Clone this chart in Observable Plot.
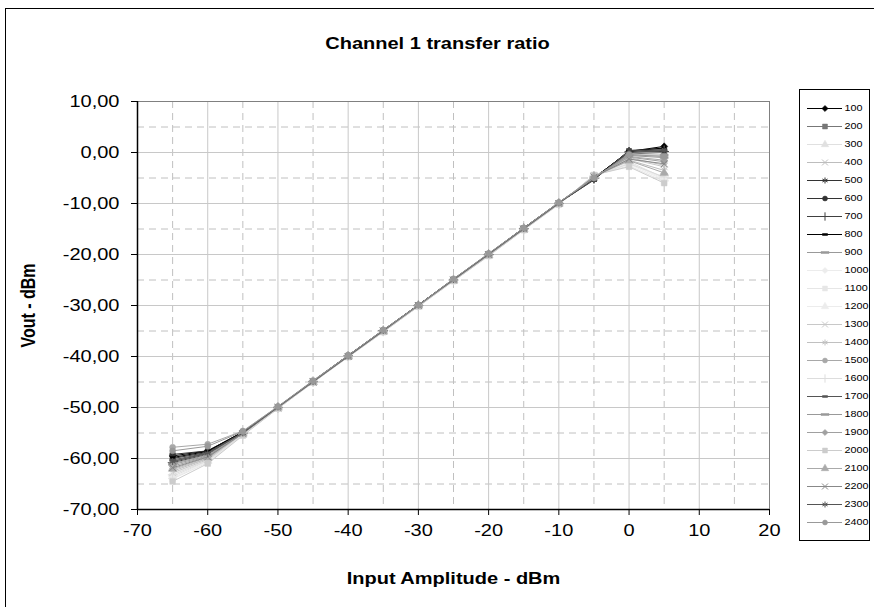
<!DOCTYPE html>
<html>
<head>
<meta charset="utf-8">
<script src="https://cdn.jsdelivr.net/npm/d3@7"></script>
<script src="https://cdn.jsdelivr.net/npm/@observablehq/plot@0.6"></script>
<style>
  html, body { margin: 0; padding: 0; background: #fff; overflow: hidden; width: 874px; height: 607px; }
  #wrap { position: relative; width: 874px; height: 607px; }
  #frame { position: absolute; left: 5px; top: 8px; width: 900px; height: 700px; border: 1.5px solid #000; box-sizing: border-box; }
  #main { position: absolute; left: 0; top: 0; }
  #legend { position: absolute; left: 799px; top: 89px; }
</style>
</head>
<body>
<div id="wrap">
  <div id="frame"></div>
  <div id="main"></div>
  <div id="legend"></div>
</div>
<script>
// Input amplitude (dBm)
const inputDbm = [-65, -60, -55, -50, -45, -40, -35, -30, -25, -20, -15, -10, -5, 0, 5];

// Series names (frequencies)
const seriesNames = ["100","200","300","400","500","600","700","800","900","1000","1100","1200",
  "1300","1400","1500","1600","1700","1800","1900","2000","2100","2200","2300","2400"];

// Vout (dBm) per series
const v100  = [-59.5, -58.5, -54.8, -49.9, -44.8, -39.8, -34.9, -29.9, -24.9, -19.9, -14.8, -9.9, -5.0, 0.2, 1.2];
const v200  = [-60.5, -59.0, -55.0, -50.0, -44.9, -39.9, -35.0, -30.0, -25.0, -20.1, -15.0, -10.0, -4.8, -0.3, 0.0];
const v300  = [-63.5, -60.5, -55.3, -50.1, -45.0, -40.0, -35.1, -30.1, -25.1, -20.2, -15.1, -10.1, -4.6, -1.8, -5.0];
const v400  = [-62.5, -60.0, -55.2, -50.0, -45.0, -40.0, -35.0, -30.0, -25.1, -20.1, -15.0, -10.0, -4.7, -1.5, -3.5];
const v500  = [-60.0, -58.8, -54.9, -49.9, -44.9, -39.9, -34.9, -29.9, -24.9, -19.9, -14.9, -9.9, -5.4, 0.4, 0.8];
const v600  = [-59.2, -58.5, -54.8, -49.9, -44.8, -39.8, -34.9, -29.9, -24.9, -19.9, -14.8, -9.9, -5.2, 0.3, 0.5];
const v700  = [-60.8, -59.2, -55.0, -50.0, -44.9, -39.9, -34.9, -30.0, -25.0, -20.0, -14.9, -10.0, -5.1, 0.1, 0.2];
const v800  = [-59.8, -58.6, -54.8, -49.9, -44.8, -39.8, -34.8, -29.9, -24.8, -19.9, -14.8, -9.8, -5.0, 0.2, 0.9];
const v900  = [-61.0, -59.3, -55.0, -50.0, -44.9, -39.9, -35.0, -30.0, -25.0, -20.0, -15.0, -10.0, -4.9, -0.5, -0.5];
const v1000 = [-63.8, -60.6, -55.4, -50.2, -45.1, -40.1, -35.1, -30.1, -25.1, -20.2, -15.1, -10.1, -4.5, -2.3, -5.4];
const v1100 = [-64.0, -60.8, -55.4, -50.2, -45.1, -40.1, -35.2, -30.2, -25.2, -20.2, -15.2, -10.1, -4.5, -2.6, -5.7];
const v1200 = [-63.0, -60.3, -55.3, -50.1, -45.0, -40.0, -35.1, -30.1, -25.1, -20.1, -15.1, -10.1, -4.6, -2.0, -5.2];
const v1300 = [-62.8, -60.2, -55.2, -50.1, -45.0, -40.0, -35.0, -30.1, -25.0, -20.1, -15.0, -10.0, -4.7, -1.2, -2.8];
const v1400 = [-62.2, -60.0, -55.2, -50.0, -45.0, -40.0, -35.0, -30.0, -25.0, -20.0, -15.0, -10.0, -4.8, -1.0, -2.5];
const v1500 = [-57.8, -57.2, -54.6, -49.8, -44.7, -39.8, -34.8, -29.9, -24.8, -19.8, -14.8, -9.8, -4.9, -0.8, -1.5];
const v1600 = [-63.2, -60.4, -55.3, -50.1, -45.0, -40.0, -35.1, -30.1, -25.1, -20.2, -15.1, -10.1, -4.6, -2.2, -4.8];
const v1700 = [-60.3, -58.9, -54.9, -49.9, -44.9, -39.9, -34.9, -29.9, -24.9, -19.9, -14.9, -9.9, -5.1, 0.0, 0.4];
const v1800 = [-61.2, -59.5, -55.0, -50.0, -45.0, -40.0, -35.0, -30.0, -25.0, -20.0, -15.0, -10.0, -4.9, -0.6, -1.0];
const v1900 = [-61.5, -59.6, -55.1, -50.0, -45.0, -40.0, -35.0, -30.0, -25.0, -20.0, -15.0, -10.0, -4.8, -0.9, -1.8];
const v2000 = [-64.5, -61.0, -55.5, -50.2, -45.1, -40.1, -35.2, -30.2, -25.2, -20.3, -15.2, -10.2, -4.4, -2.8, -6.0];
const v2100 = [-62.0, -59.8, -55.1, -50.0, -45.0, -40.0, -35.0, -30.0, -25.0, -20.1, -15.0, -10.0, -4.7, -1.6, -4.0];
const v2200 = [-61.8, -59.7, -55.1, -50.0, -45.0, -40.0, -35.0, -30.0, -25.0, -20.0, -15.0, -10.0, -4.8, -1.3, -2.2];
const v2300 = [-60.6, -59.0, -55.0, -49.9, -44.9, -39.9, -34.9, -29.9, -24.9, -19.9, -14.9, -9.9, -5.3, 0.3, 0.6];
const v2400 = [-58.5, -57.6, -54.7, -49.8, -44.8, -39.8, -34.8, -29.9, -24.8, -19.8, -14.8, -9.8, -5.0, -0.4, -0.8];

const seriesValues = [v100, v200, v300, v400, v500, v600, v700, v800, v900, v1000, v1100, v1200,
  v1300, v1400, v1500, v1600, v1700, v1800, v1900, v2000, v2100, v2200, v2300, v2400];

// Axis ticks
const xMajorTicks = [-70, -60, -50, -40, -30, -20, -10, 0, 10, 20];
const xMinorTicks = [-65, -55, -45, -35, -25, -15, -5, 5, 15];
const yMajorTicks = [10, 0, -10, -20, -30, -40, -50, -60, -70];
const yMinorTicks = [5, -5, -15, -25, -35, -45, -55, -65];

// Styles
const seriesColors = ["#000000","#777777","#e0e0e0","#bdbdbd","#333333","#333333","#404040","#000000",
  "#999999","#ececec","#e6e6e6","#ececec","#c8c8c8","#c0c0c0","#a8a8a8","#dddddd","#555555","#999999",
  "#a0a0a0","#cccccc","#aaaaaa","#888888","#555555","#999999"];
const seriesMarkers = ["diamond","square","triangle","times","asterisk","circle","plus","dashS",
  "dashL","diamond","square","triangle","times","asterisk","circle","plus","dashS","dashL",
  "diamond","square","triangle","times","asterisk","circle"];

const dashS = { draw(ctx) { ctx.moveTo(-2.5, -1); ctx.lineTo(2.5, -1); ctx.lineTo(2.5, 1); ctx.lineTo(-2.5, 1); ctx.closePath(); } };
const dashL = { draw(ctx) { ctx.moveTo(-4, -1); ctx.lineTo(4, -1); ctx.lineTo(4, 1); ctx.lineTo(-4, 1); ctx.closePath(); } };
const strokeOnly = new Set(["times", "plus", "asterisk"]);
function symbolOf(m) { return m === "dashS" ? dashS : m === "dashL" ? dashL : m === "diamond" ? "diamond2" : m; }

const fmtY = d => d.toFixed(2).replace(".", ",");
const fmtX = d => String(d);
const font = "'Liberation Sans', Arial, sans-serif";
const STRETCH = 1.25;

function stretchTexts(svg, s) {
  svg.querySelectorAll("text").forEach(t => {
    const tr = t.getAttribute("transform") || "";
    const rot = /rotate/.test(tr);
    t.setAttribute("transform", tr + (rot ? ` scale(1,${s})` : ` scale(${s},1)`));
  });
}

const seriesMarks = [];
seriesNames.forEach((name, i) => {
  const rows = inputDbm.map((x, j) => ({ x, y: seriesValues[i][j] }));
  const col = seriesColors[i];
  const m = seriesMarkers[i];
  seriesMarks.push(Plot.line(rows, { x: "x", y: "y", stroke: col, strokeWidth: 1 }));
  const so = strokeOnly.has(m);
  seriesMarks.push(Plot.dot(rows, {
    x: "x", y: "y", symbol: symbolOf(m), r: m === "circle" ? 3 : 3.2,
    fill: so ? "none" : col, stroke: col, strokeWidth: so ? 1 : 0.5
  }));
});

const main = Plot.plot({
  width: 874, height: 607,
  marginLeft: 137, marginRight: 105, marginTop: 101, marginBottom: 98,
  style: { fontFamily: font, background: "transparent", overflow: "visible" },
  x: { domain: [-70, 20], label: null },
  y: { domain: [-70, 10], label: null },
  marks: [
    Plot.frame({ fill: "#fff", stroke: "none" }),
    Plot.gridX(xMinorTicks, { stroke: "#c0c0c0", strokeOpacity: 1, strokeDasharray: "7,5" }),
    Plot.gridY(yMinorTicks, { stroke: "#c0c0c0", strokeOpacity: 1, strokeDasharray: "7,5" }),
    Plot.gridX(xMajorTicks, { stroke: "#c8c8c8", strokeOpacity: 1 }),
    Plot.gridY(yMajorTicks, { stroke: "#c8c8c8", strokeOpacity: 1 }),
    Plot.frame({ stroke: "#808080" }),
    ...seriesMarks,
    Plot.ruleX([-70], { stroke: "#000", strokeWidth: 1.5 }),
    Plot.ruleY([-70], { stroke: "#000", strokeWidth: 1.5 }),
    Plot.axisX(xMajorTicks, { anchor: "bottom", tickSize: 6, tickPadding: 9, fontSize: 16, label: null, tickFormat: fmtX, stroke: "#000" }),
    Plot.axisY(yMajorTicks, { anchor: "left", tickSize: 6, tickPadding: 12, fontSize: 16, label: null, tickFormat: fmtY, stroke: "#000" }),
    Plot.text(["Channel 1 transfer ratio"], { frameAnchor: "top", textAnchor: "middle", lineAnchor: "middle", dx: -16, dy: -58, fontSize: 16, fontWeight: "bold", fill: "#000" }),
    Plot.text(["Input Amplitude - dBm"], { frameAnchor: "bottom", textAnchor: "middle", lineAnchor: "middle", dy: 69, fontSize: 16, fontWeight: "bold", fill: "#000" }),
    Plot.text(["Vout - dBm"], { frameAnchor: "left", textAnchor: "middle", lineAnchor: "middle", dx: -109, rotate: -90, fontSize: 16, fontWeight: "bold", fill: "#000" })
  ]
});
stretchTexts(main, STRETCH);
document.getElementById("main").appendChild(main);

// Legend
const legendRows = seriesNames.map((name, i) => ({ name, color: seriesColors[i], marker: seriesMarkers[i] }));
const legendMarks = [Plot.frame({ fill: "#fff", stroke: "#000" })];
legendRows.forEach(r => {
  legendMarks.push(Plot.ruleY([r.name], { y: d => d, x1: 8, x2: 43, stroke: r.color, strokeWidth: 1 }));
  const so = strokeOnly.has(r.marker);
  legendMarks.push(Plot.dot([r.name], { y: d => d, x: 25.5, symbol: symbolOf(r.marker), r: r.marker === "circle" ? 2.5 : 2.8,
    fill: so ? "none" : r.color, stroke: r.color, strokeWidth: so ? 1 : 0.5 }));
});
legendMarks.push(Plot.text(legendRows, { y: "name", x: 45, text: "name", textAnchor: "start", fontSize: 9, fill: "#000" }));

const legend = Plot.plot({
  width: 70, height: 451,
  margin: 0,
  style: { fontFamily: font, background: "transparent", overflow: "visible" },
  x: { domain: [0, 70], range: [0, 70], axis: null },
  y: { type: "point", domain: seriesNames, range: [11, 441], padding: 0, axis: null },
  marks: legendMarks
});
stretchTexts(legend, 1.2);
document.getElementById("legend").appendChild(legend);
</script>
</body>
</html>
